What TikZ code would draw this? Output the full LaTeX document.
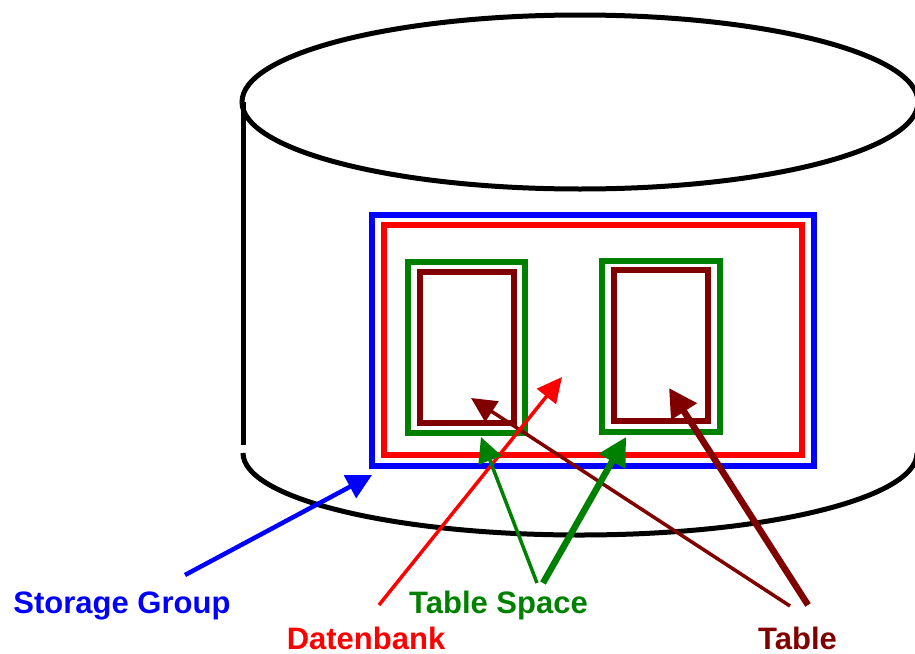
\documentclass[tikz,border=0pt]{standalone}
\usepackage{fontspec}
\setmainfont{Liberation Sans}
\usetikzlibrary{arrows.meta}
\definecolor{sgblue}{RGB}{0,0,255}
\definecolor{dbred}{RGB}{255,0,0}
\definecolor{tsgreen}{RGB}{0,128,0}
\definecolor{tbred}{RGB}{128,0,0}
\begin{document}
\begin{tikzpicture}[x=1pt,y=-1pt,
  frame/.style={line width=6pt},
  cyl/.style={line width=5pt, black},
  txt/.style={font=\fontsize{31}{31}\selectfont\bfseries, anchor=base, inner sep=0pt},
  thinarrow/.style={line width=3.5pt, -{Triangle[length=25pt,width=24pt]}},
  midarrow/.style={line width=4.5pt, -{Triangle[length=25pt,width=25pt]}},
  thickarrow/.style={line width=6.5pt, -{Triangle[length=28pt,width=29pt]}},
]
\useasboundingbox (0,0) rectangle (915,653);
\clip (0,0) rectangle (915,653);

% disk cylinder
\draw[cyl] (580,102) ellipse [x radius=338, y radius=87];
\draw[cyl] (243,102) -- (243,445);
\draw[cyl] (243,453) arc [start angle=180, end angle=0, x radius=337, y radius=82];

% nested frames
\draw[frame, sgblue] (372,215) rectangle (814,466);
\draw[frame, dbred] (384,224.5) rectangle (802,455);
\draw[frame, tsgreen] (407.5,262) rectangle (525,433);
\draw[frame, tbred] (419.5,272) rectangle (514,423);
\draw[frame, tsgreen] (602,261) rectangle (720,431.5);
\draw[frame, tbred] (614,270) rectangle (708,421);

% labels
\node[txt, sgblue] (sg) at (122,613) {Storage Group};
\node[txt, tsgreen] (ts) at (498.5,613) {Table Space};
\node[txt, dbred] (db) at (366,649) {Datenbank};
\node[txt, tbred] (tb) at (797.5,649) {Table};

% arrow ends
\coordinate (sgTail) at (185,575);
\coordinate (sgTip) at (372,475);
\coordinate (dbTail) at (379,605);
\coordinate (dbTip) at (562,377);
\coordinate (tsTailA) at (537,583);
\coordinate (tsTipA) at (481,437);
\coordinate (tsTailB) at (543,583);
\coordinate (tsTipB) at (626,437);
\coordinate (tbTailA) at (790,606);
\coordinate (tbTipA) at (471,398);
\coordinate (tbTailB) at (808,605);
\coordinate (tbTipB) at (669,388);

% pointers
\draw[midarrow, sgblue] (sgTail) -- (sgTip);
\draw[thinarrow, tbred] (tbTailA) -- (tbTipA);
\draw[thickarrow, tbred] (tbTailB) -- (tbTipB);
\draw[thinarrow, dbred] (dbTail) -- (dbTip);
\draw[thinarrow, tsgreen] (tsTailA) -- (tsTipA);
\draw[thickarrow, tsgreen] (tsTailB) -- (tsTipB);
\end{tikzpicture}
\end{document}
